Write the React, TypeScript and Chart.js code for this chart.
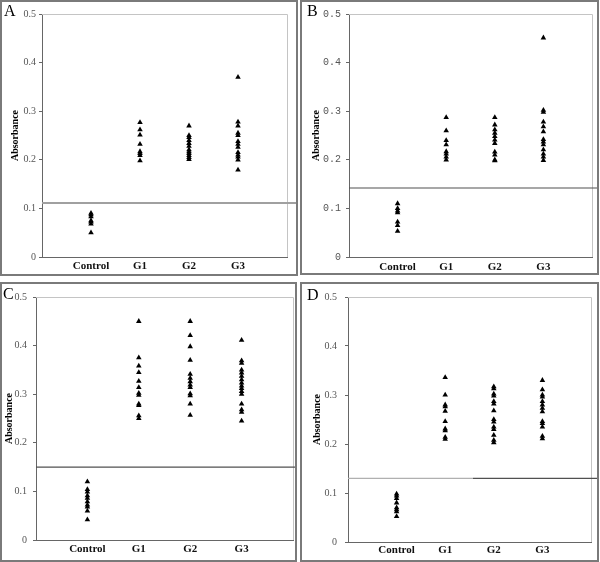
import React, { useEffect, useRef } from 'react';
import { Chart, registerables } from 'chart.js';

Chart.register(...registerables);

// ---------- data ----------
const categories = ['Control', 'G1', 'G2', 'G3'];
const yTickValues = [0, 0.1, 0.2, 0.3, 0.4, 0.5];
const panelLetters = ['A', 'B', 'C', 'D'];
const cutoffs = [0.111, 0.142, 0.15, 0.13];

const aControl = [0.09, 0.087, 0.083, 0.075, 0.072, 0.068, 0.05];
const aG1 = [0.277, 0.262, 0.251, 0.232, 0.217, 0.213, 0.209, 0.198];
const aG2 = [0.27, 0.25, 0.246, 0.24, 0.234, 0.228, 0.221, 0.217, 0.213, 0.209, 0.205, 0.201];
const aG3 = [0.37, 0.278, 0.27, 0.255, 0.25, 0.238, 0.232, 0.226, 0.215, 0.21, 0.206, 0.2, 0.179];

const bControl = [0.11, 0.1, 0.095, 0.091, 0.072, 0.065, 0.053];
const bG1 = [0.287, 0.26, 0.24, 0.231, 0.217, 0.212, 0.206, 0.2];
const bG2 = [0.287, 0.272, 0.262, 0.255, 0.248, 0.241, 0.234, 0.216, 0.21, 0.2, 0.198];
const bG3 = [0.451, 0.302, 0.298, 0.278, 0.268, 0.258, 0.242, 0.237, 0.231, 0.221, 0.212, 0.206, 0.199];

const cControl = [0.12, 0.104, 0.099, 0.091, 0.086, 0.079, 0.072, 0.068, 0.06, 0.042];
const cG1 = [0.45, 0.375, 0.358, 0.345, 0.327, 0.314, 0.302, 0.298, 0.28, 0.277, 0.256, 0.25];
const cG2 = [0.45, 0.421, 0.398, 0.37, 0.341, 0.333, 0.326, 0.319, 0.314, 0.301, 0.297, 0.28, 0.257];
const cG3 = [0.411, 0.369, 0.364, 0.35, 0.344, 0.337, 0.33, 0.323, 0.317, 0.312, 0.306, 0.3, 0.28, 0.268, 0.263, 0.245];

const dControl = [0.098, 0.094, 0.089, 0.08, 0.07, 0.066, 0.062, 0.052];
const dG1 = [0.336, 0.3, 0.28, 0.276, 0.267, 0.246, 0.231, 0.227, 0.214, 0.21];
const dG2 = [0.317, 0.313, 0.302, 0.298, 0.287, 0.282, 0.268, 0.25, 0.245, 0.235, 0.23, 0.218, 0.208, 0.203];
const dG3 = [0.33, 0.311, 0.3, 0.296, 0.287, 0.28, 0.273, 0.266, 0.246, 0.242, 0.235, 0.216, 0.211];

const panelGroups = [
  [aControl, aG1, aG2, aG3],
  [bControl, bG1, bG2, bG3],
  [cControl, cG1, cG2, cG3],
  [dControl, dG1, dG2, dG3],
];

// ---------- layout / style ----------
const SERIF = '"Liberation Serif", "Times New Roman", serif';
const MONO = '"Liberation Mono", "DejaVu Sans Mono", monospace';

type Layout = {
  x: number; y: number; w: number; h: number;
  left: number; top: number; right: number; xAxisH: number;
  border: [number, number, number, number];
  tickFont: string; tickPad: number; xLabelPad: number; titlePad: number;
  letterX: number; letterY: number;
  lineColor: string; lineWidth: number; lineSplit?: number; lineSplitColor?: string;
};

const layouts: Layout[] = [
  { x: 0, y: 0, w: 300, h: 280, left: 42, top: 14, right: 13, xAxisH: 23, border: [1, 1, 297, 275],
    tickFont: SERIF, tickPad: 3, xLabelPad: 3, titlePad: 9, letterX: 4, letterY: 16,
    lineColor: '#a0a0a0', lineWidth: 2 },
  { x: 300, y: 0, w: 300, h: 280, left: 49, top: 14, right: 8, xAxisH: 23, border: [1, 1, 298, 274],
    tickFont: MONO, tickPad: 5, xLabelPad: 4, titlePad: 10, letterX: 7, letterY: 16,
    lineColor: '#505050', lineWidth: 1.2 },
  { x: 0, y: 280, w: 300, h: 282, left: 36, top: 17, right: 7, xAxisH: 22, border: [1, 3, 296, 281],
    tickFont: SERIF, tickPad: 6, xLabelPad: 3, titlePad: 3, letterX: 3, letterY: 19,
    lineColor: '#505050', lineWidth: 1.2 },
  { x: 300, y: 280, w: 300, h: 282, left: 48, top: 17, right: 9, xAxisH: 20, border: [1, 3, 298, 281],
    tickFont: SERIF, tickPad: 8, xLabelPad: 1.5, titlePad: 11, letterX: 7, letterY: 20,
    lineColor: '#505050', lineWidth: 1.2, lineSplit: 173, lineSplitColor: '#b0b0b0' },
];

function Panel({ idx }: { idx: number }) {
  const ref = useRef<HTMLCanvasElement | null>(null);
  const L = layouts[idx];

  useEffect(() => {
    if (!ref.current) return;
    const groups = panelGroups[idx];
    const points = groups.flatMap((vals, i) => vals.map((v) => ({ x: i + 1, y: v })));

    const deco = {
      id: 'deco' + idx,
      beforeDatasetsDraw(chart: any) {
        const { ctx, chartArea } = chart;
        const { left, top, right, bottom } = chartArea;
        ctx.save();
        ctx.strokeStyle = '#c4c4c4';
        ctx.lineWidth = 1;
        ctx.beginPath();
        ctx.moveTo(left, Math.round(top) + 0.5);
        ctx.lineTo(Math.round(right) + 0.5, Math.round(top) + 0.5);
        ctx.lineTo(Math.round(right) + 0.5, bottom);
        ctx.stroke();
        ctx.restore();
      },
      afterDraw(chart: any) {
        const { ctx, chartArea } = chart;
        const yPix = chart.scales.y.getPixelForValue(cutoffs[idx]);
        const [bx1, by1, bx2, by2] = L.border;
        ctx.save();
        // cut-off line
        ctx.lineWidth = L.lineWidth;
        if (L.lineSplit !== undefined) {
          ctx.strokeStyle = L.lineSplitColor;
          ctx.beginPath();
          ctx.moveTo(chartArea.left, yPix);
          ctx.lineTo(L.lineSplit, yPix);
          ctx.stroke();
          ctx.strokeStyle = L.lineColor;
          ctx.beginPath();
          ctx.moveTo(L.lineSplit, yPix);
          ctx.lineTo(bx2, yPix);
          ctx.stroke();
        } else {
          ctx.strokeStyle = L.lineColor;
          ctx.beginPath();
          ctx.moveTo(chartArea.left, yPix);
          ctx.lineTo(bx2, yPix);
          ctx.stroke();
        }
        // panel border
        ctx.strokeStyle = '#7a7a7a';
        ctx.lineWidth = 2;
        ctx.strokeRect(bx1, by1, bx2 - bx1, by2 - by1);
        // panel letter
        ctx.fillStyle = '#000';
        ctx.font = `16px ${SERIF}`;
        ctx.textBaseline = 'alphabetic';
        ctx.textAlign = 'left';
        ctx.fillText(panelLetters[idx], L.letterX, L.letterY);
        ctx.restore();
      },
    };

    const chart = new Chart(ref.current, {
      type: 'scatter',
      data: {
        datasets: [
          {
            data: points,
            pointStyle: 'triangle',
            pointRadius: 3.2,
            pointHoverRadius: 3.2,
            backgroundColor: '#000',
            borderColor: '#000',
            borderWidth: 0,
          },
        ],
      },
      options: {
        responsive: false,
        animation: false,
        devicePixelRatio: 1,
        layout: { padding: { left: 0, top: L.top, right: L.right, bottom: 0 } },
        plugins: { legend: { display: false }, tooltip: { enabled: false } },
        events: [],
        scales: {
          x: {
            type: 'linear',
            min: 0,
            max: 5,
            afterBuildTicks: (s: any) => {
              s.ticks = categories.map((_, i) => ({ value: i + 1 }));
            },
            afterFit: (s: any) => {
              s.height = L.xAxisH;
            },
            ticks: {
              autoSkip: false,
              maxRotation: 0,
              padding: L.xLabelPad,
              color: '#111',
              font: { family: SERIF, size: 11, weight: 'bold' },
              callback: (v: any) => categories[Math.round(v) - 1] ?? '',
            },
            grid: { display: false, drawTicks: false },
            border: { display: true, color: '#666', width: 1 },
          },
          y: {
            type: 'linear',
            min: 0,
            max: 0.5,
            afterBuildTicks: (s: any) => {
              s.ticks = yTickValues.map((v) => ({ value: v }));
            },
            afterFit: (s: any) => {
              s.width = L.left;
            },
            ticks: {
              padding: L.tickPad,
              color: '#555',
              font: { family: L.tickFont, size: 10 },
              callback: (v: any) => (v === 0 ? '0' : (Math.round(v * 10) / 10).toFixed(1)),
            },
            grid: { display: true, drawOnChartArea: false, drawTicks: true, tickLength: 3, color: '#666' },
            border: { display: true, color: '#666', width: 1 },
            title: {
              display: true,
              text: 'Absorbance',
              color: '#000',
              font: { family: SERIF, size: 10, weight: 'bold' },
              padding: { top: L.titlePad, bottom: 0 },
            },
          },
        },
      },
      plugins: [deco],
    } as any);
    return () => chart.destroy();
  }, [idx]);

  return (
    <canvas
      ref={ref}
      width={L.w}
      height={L.h}
      style={{ position: 'absolute', left: L.x, top: L.y, width: L.w, height: L.h }}
    />
  );
}

export default function App() {
  return (
    <div style={{ position: 'absolute', left: 0, top: 0, width: 600, height: 562, background: '#fff' }}>
      {layouts.map((_, i) => (
        <Panel key={i} idx={i} />
      ))}
    </div>
  );
}
